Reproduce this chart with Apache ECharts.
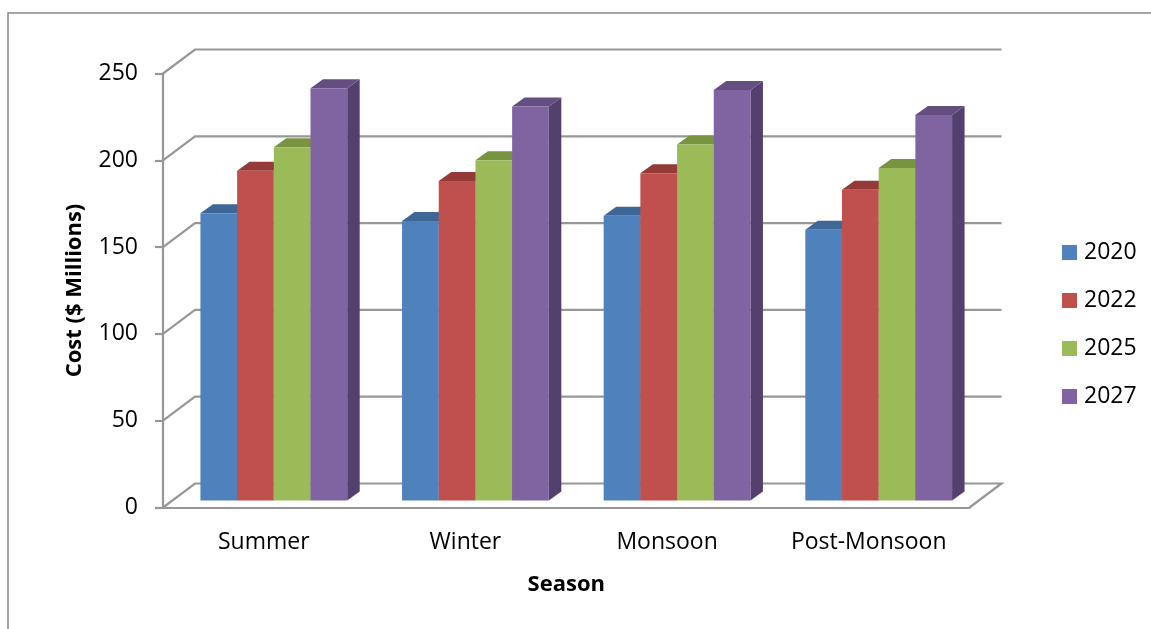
<!DOCTYPE html>
<html>
<head>
<meta charset="utf-8">
<style>html,body{margin:0;padding:0;background:#fff}#chart{width:1151px;height:629px}</style>
<script src="https://cdn.jsdelivr.net/npm/echarts@6/dist/echarts.min.js"></script>
</head>
<body>
<div id="chart"></div>
<script>
// Seasonal cost by year, drawn as clustered columns with a bevelled 3D look.
const seasons = ['Summer', 'Winter', 'Monsoon', 'Post-Monsoon'];
const years = ['2020', '2022', '2025', '2027'];
const cost2020 = [165.5, 161, 164, 156];
const cost2022 = [190, 184, 188.5, 179];
const cost2025 = [203.5, 196, 205, 191.5];
const cost2027 = [237.5, 227, 236.5, 222];
const yTicks = [0, 50, 100, 150, 200, 250];

const faceColors = ['#4F81BD', '#C0504D', '#9BBB59', '#8064A2'];
const topColors = ['#3E6797', '#953A38', '#789441', '#644D80'];
const sideColors = ['#345680', '#7D302E', '#657C37', '#54406F'];

const FONT = '"Open Sans"';
const WALL_DX = 32, WALL_DY = -24;     // back wall relative to the front axes
const PLANE_DX = 10, PLANE_DY = -7;    // front plane of the columns
const DEPTH_DX = 12.5, DEPTH_DY = -9;  // depth of a single column
const BAR_SHARE = 0.182;               // column width as a share of a category band
const LINE = '#979797';

function wallItem(params, api) {
  const cs = params.coordSys;
  const value = api.value(0);
  const y = api.coord([0, value])[1];
  const x0 = cs.x, x1 = cs.x + cs.width;
  const pts = [[x0, y], [x0 + WALL_DX, y + WALL_DY], [x1 + WALL_DX, y + WALL_DY]];
  if (value === 0) pts.push([x1, y]);
  return {
    type: 'polyline',
    shape: { points: pts },
    style: { fill: 'none', stroke: LINE, lineWidth: 2.2 }
  };
}

function columnRenderer(index) {
  return function (params, api) {
    const band = api.size([1, 0])[0];
    const w = band * BAR_SHARE;
    const cat = api.value(0);
    const top = api.coord([cat, api.value(1)]);
    const base = api.coord([cat, 0]);
    const left = top[0] + PLANE_DX + (index - 2) * w;
    const right = left + w;
    const yTop = top[1] + PLANE_DY;
    const yBase = base[1] + PLANE_DY;
    return {
      type: 'group',
      children: [
        {
          type: 'polygon',
          shape: { points: [[right, yTop], [right + DEPTH_DX, yTop + DEPTH_DY], [right + DEPTH_DX, yBase + DEPTH_DY], [right, yBase]] },
          style: { fill: sideColors[index] }
        },
        {
          type: 'polygon',
          shape: { points: [[left, yTop], [left + DEPTH_DX, yTop + DEPTH_DY], [right + DEPTH_DX, yTop + DEPTH_DY], [right, yTop]] },
          style: { fill: topColors[index] }
        },
        {
          type: 'rect',
          shape: { x: left, y: yTop, width: w, height: yBase - yTop },
          style: { fill: faceColors[index] }
        }
      ]
    };
  };
}

const costsByYear = [cost2020, cost2022, cost2025, cost2027];

const chart = echarts.init(document.getElementById('chart'), null, { renderer: 'canvas' });
chart.setOption({
  animation: false,
  backgroundColor: '#ffffff',
  textStyle: { fontFamily: FONT, color: '#000' },
  graphic: [{
    type: 'polyline',
    silent: true,
    shape: { points: [[8, 629], [8, 13], [1151, 13]] },
    style: { fill: 'none', stroke: '#868686', lineWidth: 1.5 }
  }],
  grid: { left: 163, top: 73.5, width: 806.5, height: 434 },
  legend: {
    orient: 'vertical',
    left: 1057,
    top: 236,
    itemWidth: 15,
    itemHeight: 15,
    itemGap: 25,
    icon: 'rect',
    data: years,
    textStyle: { fontFamily: FONT, fontSize: 23, color: '#000', padding: [0, 0, 0, 2] }
  },
  xAxis: {
    type: 'category',
    data: seasons,
    name: 'Season',
    nameLocation: 'middle',
    nameGap: 66,
    nameTextStyle: { fontFamily: FONT, fontSize: 22, fontWeight: 'bold', color: '#000' },
    axisLine: { show: true, lineStyle: { color: LINE, width: 2.2 } },
    axisTick: { show: false },
    axisLabel: { interval: 0, fontFamily: FONT, fontSize: 23, color: '#000', margin: 23 }
  },
  yAxis: {
    type: 'value',
    min: 0,
    max: 250,
    interval: 50,
    name: 'Cost ($ Millions)',
    nameLocation: 'middle',
    nameGap: 77,
    nameTextStyle: { fontFamily: FONT, fontSize: 22, fontWeight: 'bold', color: '#000' },
    splitLine: { show: false },
    axisLine: { show: true, lineStyle: { color: LINE, width: 2.2 } },
    axisTick: { show: true, length: 8, lineStyle: { color: LINE, width: 2.2 } },
    axisLabel: { fontFamily: FONT, fontSize: 23, color: '#000', margin: 25, padding: [2, 0, 0, 0] }
  },
  series: [
    {
      type: 'custom',
      name: 'wall',
      silent: true,
      z: 1,
      renderItem: wallItem,
      encode: { y: 0 },
      data: yTicks.map(v => [v])
    }
  ].concat(years.map((year, i) => ({
    type: 'custom',
    name: year,
    z: 2 + i,
    itemStyle: { color: faceColors[i] },
    renderItem: columnRenderer(i),
    encode: { x: 0, y: 1 },
    data: costsByYear[i].map((v, c) => [c, v])
  })))
});
</script>
</body>
</html>
